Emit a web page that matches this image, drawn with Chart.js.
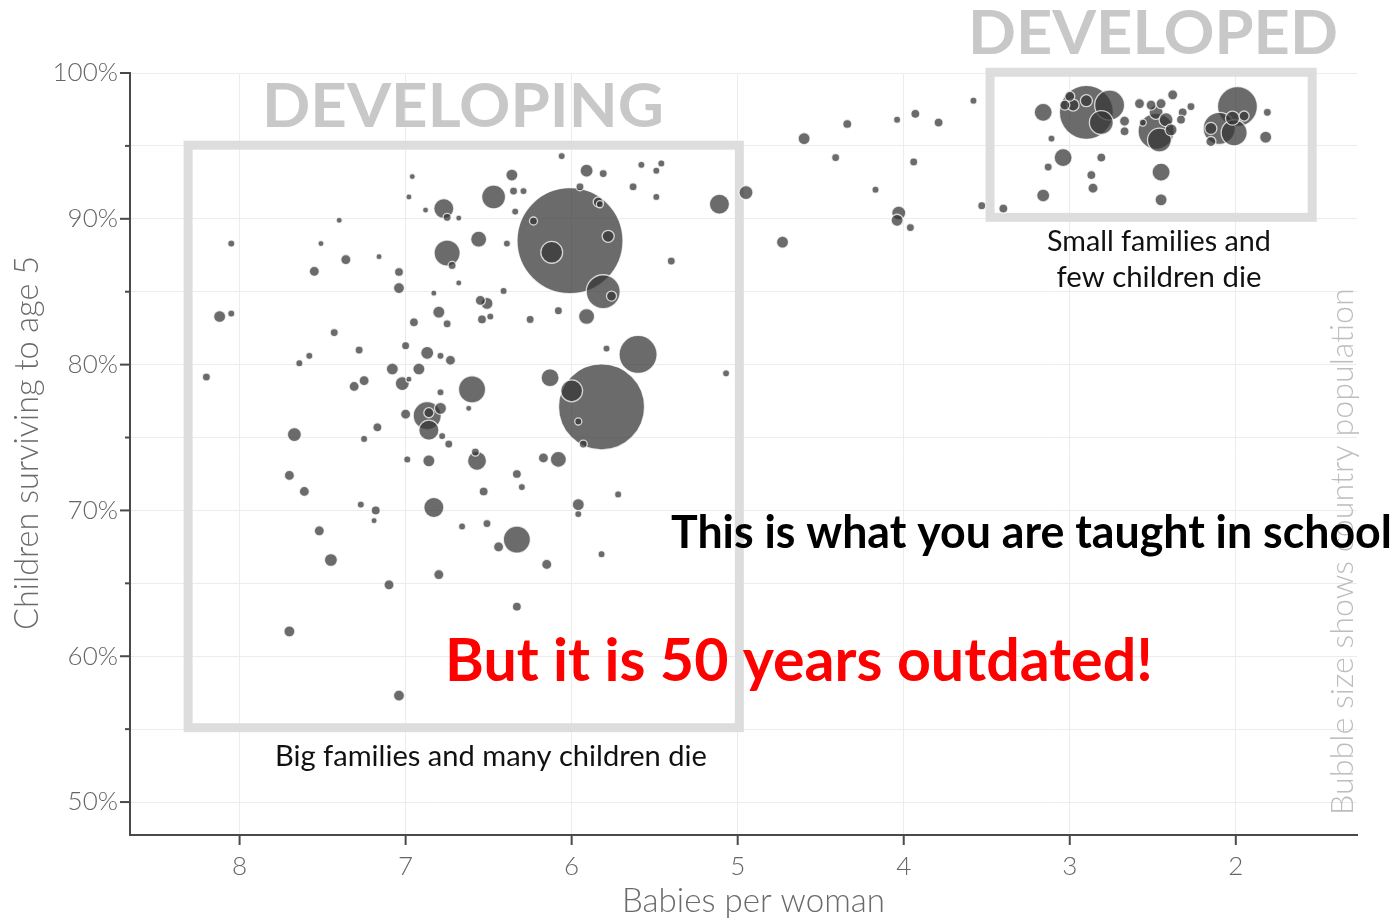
<!DOCTYPE html>
<html><head><meta charset="utf-8">
<script src="https://cdn.jsdelivr.net/npm/chart.js@4.4.1/dist/chart.umd.min.js"></script>
<style>html,body{margin:0;padding:0;background:#fff;overflow:hidden}canvas{display:block}</style>
</head><body>
<div style="position:relative;width:1396px;height:921px"><canvas id="c" width="1396" height="921"></canvas></div>
<script>
// ---- data (babies per woman, % children surviving to age 5, population in millions) ----
const babiesPerWoman = [
6.96,6.98,6.77,6.75,6.88,6.68,6.75,6.72,7.40,8.05,
7.51,7.36,7.16,7.55,7.04,7.04,6.68,6.83,6.80,6.75,
6.95,8.12,8.05,7.43,7.00,6.87,6.79,6.73,7.28,7.58,
7.64,8.20,7.08,6.92,7.25,7.31,7.02,6.98,6.60,6.62,
6.79,6.87,6.86,6.79,7.00,6.86,6.78,7.17,7.25,7.67,
6.74,6.99,6.86,6.57,6.58,7.70,7.61,7.27,7.18,7.19,
6.83,6.66,7.52,7.45,6.80,7.10,7.70,7.04,5.82,5.96,
5.93,6.17,6.08,6.33,6.30,6.53,5.72,5.96,5.96,6.51,
6.33,6.44,5.82,6.15,6.33,6.06,5.91,5.81,5.58,5.46,
5.49,6.36,6.47,6.35,6.29,5.95,5.63,5.49,5.11,4.95,
5.84,5.83,6.01,6.34,6.23,5.78,6.12,6.39,6.56,5.40,
5.81,5.76,6.41,6.55,6.51,6.49,6.54,6.25,6.08,5.91,
5.79,5.60,5.07,6.13,6.00,3.58,3.93,4.04,3.79,4.34,
4.60,4.41,3.94,4.17,4.03,4.04,3.96,4.73,3.53,3.40,
3.16,2.90,3.00,3.03,2.98,2.90,2.76,2.81,2.67,2.67,
3.11,3.04,3.13,2.81,2.87,2.86,3.16,2.45,2.45,2.58,
2.51,2.45,2.38,2.27,2.32,2.33,2.56,2.48,2.42,2.48,
2.46,2.39,1.99,2.10,2.01,2.15,2.15,2.02,1.95,1.81,1.82
];
const childSurvival = [
92.9,91.5,90.7,90.1,90.6,90.05,87.65,86.8,89.9,88.3,
88.3,87.2,87.4,86.4,86.35,85.25,85.6,84.9,83.6,82.8,
82.9,83.3,83.5,82.2,81.3,80.8,80.6,80.3,81.0,80.6,
80.1,79.15,79.7,79.7,78.9,78.5,78.7,79.0,78.3,77.0,
78.1,76.5,76.7,77.0,76.6,75.5,75.1,75.7,74.9,75.2,
74.55,73.5,73.4,73.4,74.0,72.4,71.3,70.4,70.0,69.3,
70.2,68.9,68.6,66.6,65.6,64.9,61.7,57.3,77.1,76.1,
74.55,73.6,73.5,72.5,71.6,71.3,71.1,70.4,69.75,69.1,
68.0,67.5,67.0,66.3,63.4,94.3,93.3,93.1,93.7,93.8,
93.3,93.0,91.5,91.9,91.9,92.2,92.2,91.5,91.0,91.8,
91.15,91.0,88.5,90.5,89.85,88.8,87.7,88.3,88.6,87.1,
85.0,84.7,85.05,84.4,84.2,83.3,83.1,83.1,83.7,83.3,
81.1,80.7,79.4,79.1,78.2,98.1,97.2,96.8,96.6,96.5,
95.5,94.2,93.9,92.0,90.4,89.9,89.4,88.4,90.9,90.7,
97.3,97.3,98.4,97.8,97.8,98.1,97.8,96.6,96.7,96.0,
95.5,94.2,93.55,94.2,93.0,92.1,91.6,93.2,91.3,97.9,
97.8,97.9,98.5,97.7,97.3,96.8,96.6,97.3,96.8,96.0,
95.4,96.1,97.7,96.2,95.9,96.2,95.3,96.9,97.05,97.3,95.6
];
const populationM = [
2,2,22,3.5,2,2,37,3.5,2,2.7,
2,5.5,2,5.5,4.4,6.6,2,2,7.9,3.5,
4.4,7.9,2.7,3.5,3.5,9.2,2.7,5.5,3.5,2.7,
2.7,3.5,7.9,7.9,5.5,5.5,10.7,2,40,2,
2.7,43,5.5,7.9,5.5,22,2.7,4.4,2.7,10.7,
3.5,2.7,7.9,19.7,3.5,5.5,5.5,2.7,4.4,2,
22,2.7,5.5,9.2,5.5,5.5,6.6,6.6,404,2.7,
3.5,5.5,14,4.4,2.7,4.4,2.7,7.9,2.7,3.5,
40,5.5,2.7,5.5,4.4,2.7,9.2,3.5,2.7,2.7,
2.7,7.9,31,3.5,2.7,3.5,3.5,2.7,22,10.7,
5.5,2.7,613,2.7,3.5,7.9,26,2.7,14,3.5,
63,5.5,2.7,5.5,7.9,2.7,4.4,3.5,3.5,14,
2.7,79,2.7,17.7,26,2.7,4.4,2.7,4.4,4.4,
7.9,3.5,3.5,2.7,10.7,7.9,3.5,7.9,3.5,4.4,
17.7,159,5.5,5.5,7.9,7.9,49,31,5.5,4.4,
2.7,17.7,3.5,4.4,4.4,5.5,9.2,17.7,7.9,5.5,
5.5,5.5,5.5,3.5,4.4,4.4,2.7,10.7,10.7,71,
31,7.9,87,56,37,7.9,5.5,10.7,5.5,3.5,7.9
];
const xTickValues = [2,3,4,5,6,7,8];
const yTickValues = [50,55,60,65,70,75,80,85,90,95,100];
const yLabelValues = [50,60,70,80,90,100];

// annotation boxes in data coordinates [xLeft, yTop, xRight, yBottom]
const developingBox = [8.31, 95.05, 4.99, 55.1];
const developedBox = [3.48, 100.05, 1.54, 90.1];

const FONT = "Lato, 'Open Sans', 'DejaVu Sans', sans-serif";
const RADIUS_PER_SQRT_M = 2.14;

function drawFitted(ctx, text, o) {
  ctx.save();
  let size, sx = 1;
  ctx.font = `${o.weight} 100px ${FONT}`;
  const w100 = ctx.measureText(text).width;
  if (o.cap) {
    size = o.cap / 0.7165;
    sx = o.w / (w100 * size / 100);
  } else {
    size = 100 * o.w / w100;
  }
  ctx.font = `${o.weight} ${size}px ${FONT}`;
  ctx.fillStyle = o.color;
  ctx.textBaseline = 'alphabetic';
  ctx.textAlign = 'left';
  ctx.translate(o.x, o.y);
  if (o.rotate) ctx.rotate(-Math.PI / 2);
  ctx.scale(sx, 1);
  let x0 = 0;
  if (o.align === 'center') x0 = -o.w / 2 / sx;
  ctx.fillText(text, x0, 0);
  ctx.restore();
}

const decorPlugin = {
  id: 'decor',
  beforeDatasetsDraw(chart) {
    const {ctx, scales: {x, y}} = chart;
    ctx.save();
    ctx.strokeStyle = '#dddddd';
    ctx.lineWidth = 9;
    for (const b of [developingBox, developedBox]) {
      const l = x.getPixelForValue(b[0]), t = y.getPixelForValue(b[1]);
      const r = x.getPixelForValue(b[2]), btm = y.getPixelForValue(b[3]);
      ctx.strokeRect(l, t, r - l, btm - t);
    }
    ctx.restore();
    drawFitted(ctx, 'DEVELOPING', {x: 262, y: 127, w: 402, cap: 44, weight: 700, color: '#c8c8c8'});
    drawFitted(ctx, 'DEVELOPED', {x: 968, y: 54, w: 370, cap: 44, weight: 700, color: '#c8c8c8'});
    drawFitted(ctx, 'Small families and', {x: 1159, y: 251, w: 224, weight: 400, color: '#111', align: 'center'});
    drawFitted(ctx, 'few children die', {x: 1159, y: 287, w: 205, weight: 400, color: '#111', align: 'center'});
    drawFitted(ctx, 'Big families and many children die', {x: 275, y: 766, w: 432, weight: 400, color: '#111'});
    drawFitted(ctx, 'Bubble size shows country population', {x: 1353, y: 815, w: 527, weight: 300, color: '#bdbdbd', rotate: true});
    drawFitted(ctx, 'Children surviving to age 5', {x: 38, y: 630, w: 374, weight: 300, color: '#6a6a6a', rotate: true});
    drawFitted(ctx, 'Babies per woman', {x: 622, y: 912, w: 263, weight: 300, color: '#6a6a6a'});
    // tick marks
    ctx.save();
    ctx.strokeStyle = '#4a4a4a';
    ctx.lineWidth = 2;
    const ax = chart.chartArea.left, ay = chart.chartArea.bottom;
    for (const v of yTickValues) {
      const p = y.getPixelForValue(v);
      const len = yLabelValues.includes(v) ? 10 : 5;
      ctx.beginPath(); ctx.moveTo(ax - len, p); ctx.lineTo(ax, p); ctx.stroke();
    }
    for (const v of xTickValues) {
      const p = x.getPixelForValue(v);
      ctx.beginPath(); ctx.moveTo(p, ay); ctx.lineTo(p, ay + 10); ctx.stroke();
    }
    ctx.restore();
  },
  afterDraw(chart) {
    const ctx = chart.ctx;
    drawFitted(ctx, 'This is what you are taught in school', {x: 671, y: 548, w: 721, cap: 33, weight: 700, color: '#000'});
    drawFitted(ctx, 'But it is 50 years outdated!', {x: 445, y: 681, w: 708, cap: 43, weight: 700, color: '#ff0000'});
  }
};

function make() {
  const points = babiesPerWoman.map((bx, i) => ({
    x: bx, y: childSurvival[i], r: RADIUS_PER_SQRT_M * Math.sqrt(populationM[i])
  })).sort((a, b) => b.r - a.r);

  const tickFont = {family: FONT, size: 26, weight: 300};
  new Chart(document.getElementById('c'), {
    type: 'bubble',
    data: {datasets: [{
      data: points,
      backgroundColor: 'rgba(55,55,55,0.74)',
      borderColor: 'rgba(255,255,255,0.75)',
      borderWidth: 1.3,
      clip: false
    }]},
    options: {
      responsive: false, animation: false, events: [],
      layout: {autoPadding: false, padding: {top: 73, right: 39, bottom: 0, left: 0}},
      plugins: {legend: {display: false}, tooltip: {enabled: false}},
      scales: {
        x: {
          type: 'linear', reverse: true, min: 1.27, max: 8.66,
          afterBuildTicks: s => { s.ticks = xTickValues.map(v => ({value: v})); },
          afterFit: s => { s.height = 86; },
          grid: {color: '#ececec', lineWidth: 1, drawTicks: false},
          border: {display: true, color: '#4a4a4a', width: 2},
          ticks: {font: tickFont, color: '#666', padding: 16, maxRotation: 0, autoSkip: false,
                  callback: v => String(v)}
        },
        y: {
          type: 'linear', min: 47.74, max: 100,
          afterBuildTicks: s => { s.ticks = yTickValues.map(v => ({value: v})); },
          afterFit: s => { s.width = 130; },
          grid: {color: '#ececec', lineWidth: 1, drawTicks: false},
          border: {display: true, color: '#4a4a4a', width: 2},
          ticks: {font: tickFont, color: '#666', padding: 12, autoSkip: false,
                  callback: v => yLabelValues.includes(v) ? v + '%' : ''}
        }
      }
    },
    plugins: [decorPlugin]
  });
}

let started = false;
function go() { if (!started) { started = true; make(); } }
if (document.fonts && document.fonts.load) {
  Promise.all([
    document.fonts.load('300 20px Lato'), document.fonts.load('400 20px Lato'), document.fonts.load('700 20px Lato')
  ]).then(go, go);
  setTimeout(go, 500);
} else { go(); }
</script>
</body></html>
